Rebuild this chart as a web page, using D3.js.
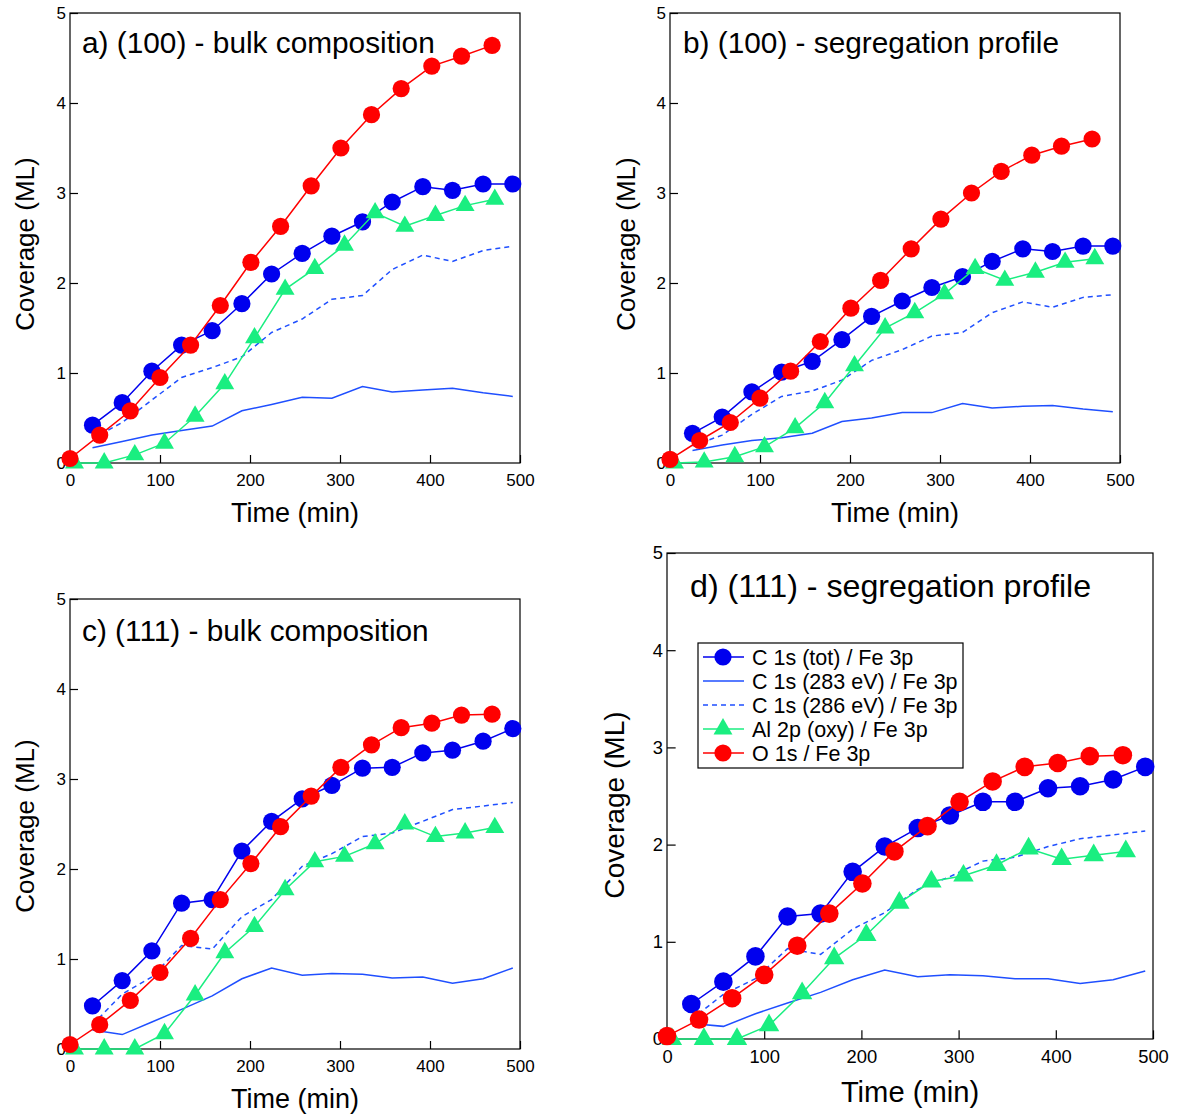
<!DOCTYPE html>
<html><head><meta charset="utf-8">
<script src="https://cdn.jsdelivr.net/npm/d3@7"></script>
<style>body{margin:0;background:#fff;} svg{display:block;} text{font-family:"Liberation Sans",Arial,Helvetica,sans-serif;fill:#000;}</style>
</head><body>
<svg id="chart" width="1177" height="1117"></svg>
<script>
// ---- data ----
const timesO  = [0,33,67,100,134,167,201,234,268,301,335,368,402,435,469];
const timesC  = [25,58,91,124,158,191,224,258,291,325,358,392,425,459,492];
const timesAl = [5,38,72,105,139,172,205,239,272,305,339,372,406,439,472];
const xTicks = [0,100,200,300,400,500];
const yTicks = [0,1,2,3,4,5];
const seriesNames = ["C 1s (tot) / Fe 3p","C 1s (283 eV) / Fe 3p","C 1s (286 eV) / Fe 3p","Al 2p (oxy) / Fe 3p","O 1s / Fe 3p"];
const panelTitles = ["a) (100) - bulk composition","b) (100) - segregation profile","c) (111) - bulk composition","d) (111) - segregation profile"];

const aTot  = [0.42,0.67,1.02,1.31,1.47,1.77,2.10,2.33,2.52,2.68,2.90,3.07,3.03,3.10,3.10];
const a283  = [0.17,0.24,0.31,0.36,0.41,0.58,0.65,0.73,0.72,0.85,0.79,0.81,0.83,0.78,0.74];
const a286  = [0.27,0.45,0.70,0.95,1.06,1.18,1.45,1.60,1.82,1.86,2.15,2.31,2.24,2.36,2.41];
const aAl   = [0,0,0.09,0.22,0.52,0.88,1.39,1.93,2.16,2.42,2.78,2.63,2.75,2.86,2.93];
const aO    = [0.05,0.31,0.58,0.95,1.31,1.75,2.23,2.63,3.08,3.50,3.87,4.16,4.41,4.52,4.64];

const bTot  = [0.33,0.51,0.79,1.01,1.13,1.37,1.63,1.80,1.95,2.07,2.24,2.38,2.35,2.41,2.41];
const b283  = [0.14,0.20,0.25,0.28,0.33,0.46,0.50,0.56,0.56,0.66,0.61,0.63,0.64,0.60,0.57];
const b286  = [0.19,0.31,0.54,0.74,0.80,0.92,1.14,1.26,1.41,1.45,1.67,1.79,1.73,1.84,1.87];
const bAl   = [0,0.01,0.07,0.18,0.39,0.67,1.08,1.50,1.67,1.88,2.16,2.03,2.12,2.23,2.27];
const bO    = [0.04,0.25,0.45,0.72,1.02,1.35,1.72,2.03,2.38,2.71,3.00,3.24,3.42,3.52,3.60];

const cTot  = [0.48,0.76,1.09,1.62,1.66,2.20,2.53,2.78,2.93,3.12,3.13,3.29,3.32,3.42,3.56];
const c283  = [0.21,0.16,0.30,0.44,0.59,0.78,0.90,0.82,0.84,0.83,0.79,0.80,0.73,0.78,0.90];
const c286  = [0.27,0.61,0.80,1.15,1.11,1.47,1.66,2.03,2.17,2.36,2.40,2.53,2.66,2.70,2.74];
const cAl   = [0,0,0,0.17,0.60,1.07,1.36,1.77,2.08,2.14,2.28,2.50,2.36,2.40,2.46];
const cO    = [0.05,0.27,0.54,0.85,1.23,1.66,2.06,2.47,2.81,3.13,3.38,3.57,3.62,3.71,3.72];

const dTot  = [0.36,0.59,0.85,1.26,1.29,1.72,1.98,2.17,2.30,2.44,2.44,2.58,2.60,2.67,2.80];
const d283  = [0.16,0.13,0.26,0.37,0.48,0.61,0.71,0.64,0.66,0.65,0.62,0.62,0.57,0.61,0.70];
const d286  = [0.20,0.46,0.62,0.93,0.87,1.13,1.30,1.54,1.67,1.83,1.87,1.98,2.06,2.10,2.14];
const dAl   = [0,0,0,0.14,0.47,0.83,1.07,1.40,1.62,1.68,1.79,1.96,1.85,1.89,1.93];
const dO    = [0.03,0.20,0.42,0.66,0.96,1.29,1.60,1.93,2.19,2.44,2.65,2.80,2.84,2.91,2.92];

const panelData = [
  [aTot,a283,a286,aAl,aO],
  [bTot,b283,b286,bAl,bO],
  [cTot,c283,c286,cAl,cO],
  [dTot,d283,d286,dAl,dO]
];

// ---- layout / style ----
const COL_C = "#0000ee", COL_LINE = "#1f4fff", COL_AL = "#1aee80", COL_O = "#ff0000";
const layouts = [
  {L:70,  R:520,  T:13,  B:463,  k:1,    titleX:82,  titleY:53,  yLabX:34,  yLabY:244, xLabY:522},
  {L:670, R:1120, T:13,  B:463,  k:1,    titleX:683, titleY:53,  yLabX:635, yLabY:244, xLabY:522},
  {L:70,  R:520,  T:599, B:1049, k:1,    titleX:82,  titleY:641, yLabX:34,  yLabY:826, xLabY:1108},
  {L:667, R:1153, T:553, B:1039, k:1.08, titleX:690, titleY:597, yLabX:624, yLabY:805, xLabY:1102}
];

const svg = d3.select("#chart");

layouts.forEach((lay, pi) => {
  const k = lay.k;
  const x = d3.scaleLinear().domain([0,500]).range([lay.L, lay.R]);
  const y = d3.scaleLinear().domain([0,5]).range([lay.B, lay.T]);
  const g = svg.append("g");
  const [tot, s283, s286, al, o] = panelData[pi];

  // frame
  g.append("rect").attr("x",lay.L).attr("y",lay.T).attr("width",lay.R-lay.L).attr("height",lay.B-lay.T)
    .attr("fill","none").attr("stroke","#000").attr("stroke-width",1.2);

  // axes (inward ticks)
  const tl = 8*k;
  const xAx = g.append("g").attr("transform",`translate(0,${lay.B})`)
    .call(d3.axisBottom(x).tickValues(xTicks).tickFormat(d3.format("d")).tickSizeInner(-tl).tickSizeOuter(0).tickPadding(tl+2));
  const yAx = g.append("g").attr("transform",`translate(${lay.L},0)`)
    .call(d3.axisLeft(y).tickValues(yTicks).tickFormat(d3.format("d")).tickSizeInner(-tl).tickSizeOuter(0).tickPadding(4));
  [xAx,yAx].forEach(a => {
    a.select(".domain").remove();
    a.selectAll("line").attr("stroke","#000").attr("stroke-width",1.2);
    a.selectAll("text").attr("font-size",17*k).attr("font-family","Liberation Sans, Arial, sans-serif").attr("fill","#000");
  });
  xAx.selectAll("text").attr("dy","0.75em");

  // labels
  g.append("text").attr("x",(lay.L+lay.R)/2).attr("y",lay.xLabY).attr("text-anchor","middle")
    .attr("font-size",27*k).text("Time (min)");
  g.append("text").attr("transform",`translate(${lay.yLabX},${lay.yLabY}) rotate(-90)`).attr("text-anchor","middle")
    .attr("font-size",26*k).text("Coverage (ML)");
  g.append("text").attr("x",lay.titleX).attr("y",lay.titleY).attr("font-size",29.8*k).text(panelTitles[pi]);

  const line = d3.line().x(d=>x(d[0])).y(d=>y(d[1]));
  const zip = (ts, vs) => ts.map((t,i)=>[t,vs[i]]);

  // C 1s 283 solid
  g.append("path").datum(zip(timesC,s283)).attr("d",line).attr("fill","none").attr("stroke",COL_LINE).attr("stroke-width",1.5);
  // C 1s 286 dashed
  g.append("path").datum(zip(timesC,s286)).attr("d",line).attr("fill","none").attr("stroke",COL_LINE).attr("stroke-width",1.5).attr("stroke-dasharray","5,4");

  const r = 8.6*k;
  const tri = d3.symbol().type(d3.symbolTriangle).size(155*k*k);

  // C tot
  g.append("path").datum(zip(timesC,tot)).attr("d",line).attr("fill","none").attr("stroke",COL_C).attr("stroke-width",1.5);
  g.selectAll(null).data(zip(timesC,tot)).enter().append("circle")
    .attr("cx",d=>x(d[0])).attr("cy",d=>y(d[1])).attr("r",r).attr("fill",COL_C);
  // Al
  g.append("path").datum(zip(timesAl,al)).attr("d",line).attr("fill","none").attr("stroke",COL_AL).attr("stroke-width",1.5);
  g.selectAll(null).data(zip(timesAl,al)).enter().append("path")
    .attr("d",tri).attr("transform",d=>`translate(${x(d[0])},${y(d[1])})`).attr("fill",COL_AL);
  // O
  g.append("path").datum(zip(timesO,o)).attr("d",line).attr("fill","none").attr("stroke",COL_O).attr("stroke-width",1.5);
  g.selectAll(null).data(zip(timesO,o)).enter().append("circle")
    .attr("cx",d=>x(d[0])).attr("cy",d=>y(d[1])).attr("r",r).attr("fill",COL_O);

  // legend in panel d
  if (pi === 3) {
    const lg = svg.append("g");
    lg.append("rect").attr("x",698).attr("y",643).attr("width",265).attr("height",125)
      .attr("fill","#fff").attr("stroke","#000").attr("stroke-width",1.2);
    const styles = [
      {c:COL_C, m:"circle", dash:null},
      {c:COL_LINE, m:null, dash:null},
      {c:COL_LINE, m:null, dash:"5,4"},
      {c:COL_AL, m:"tri", dash:null},
      {c:COL_O, m:"circle", dash:null}
    ];
    seriesNames.forEach((name,i) => {
      const yy = 657 + i*24;
      const st = styles[i];
      lg.append("line").attr("x1",703).attr("x2",744).attr("y1",yy).attr("y2",yy)
        .attr("stroke",st.c).attr("stroke-width",1.5).attr("stroke-dasharray",st.dash);
      if (st.m === "circle") lg.append("circle").attr("cx",723).attr("cy",yy).attr("r",8.6).attr("fill",st.c);
      if (st.m === "tri") lg.append("path").attr("d",d3.symbol().type(d3.symbolTriangle).size(155)()).attr("transform",`translate(723,${yy})`).attr("fill",st.c);
      lg.append("text").attr("x",752).attr("y",yy+7.5).attr("font-size",21.5).text(name);
    });
  }
});
</script>
</body></html>
